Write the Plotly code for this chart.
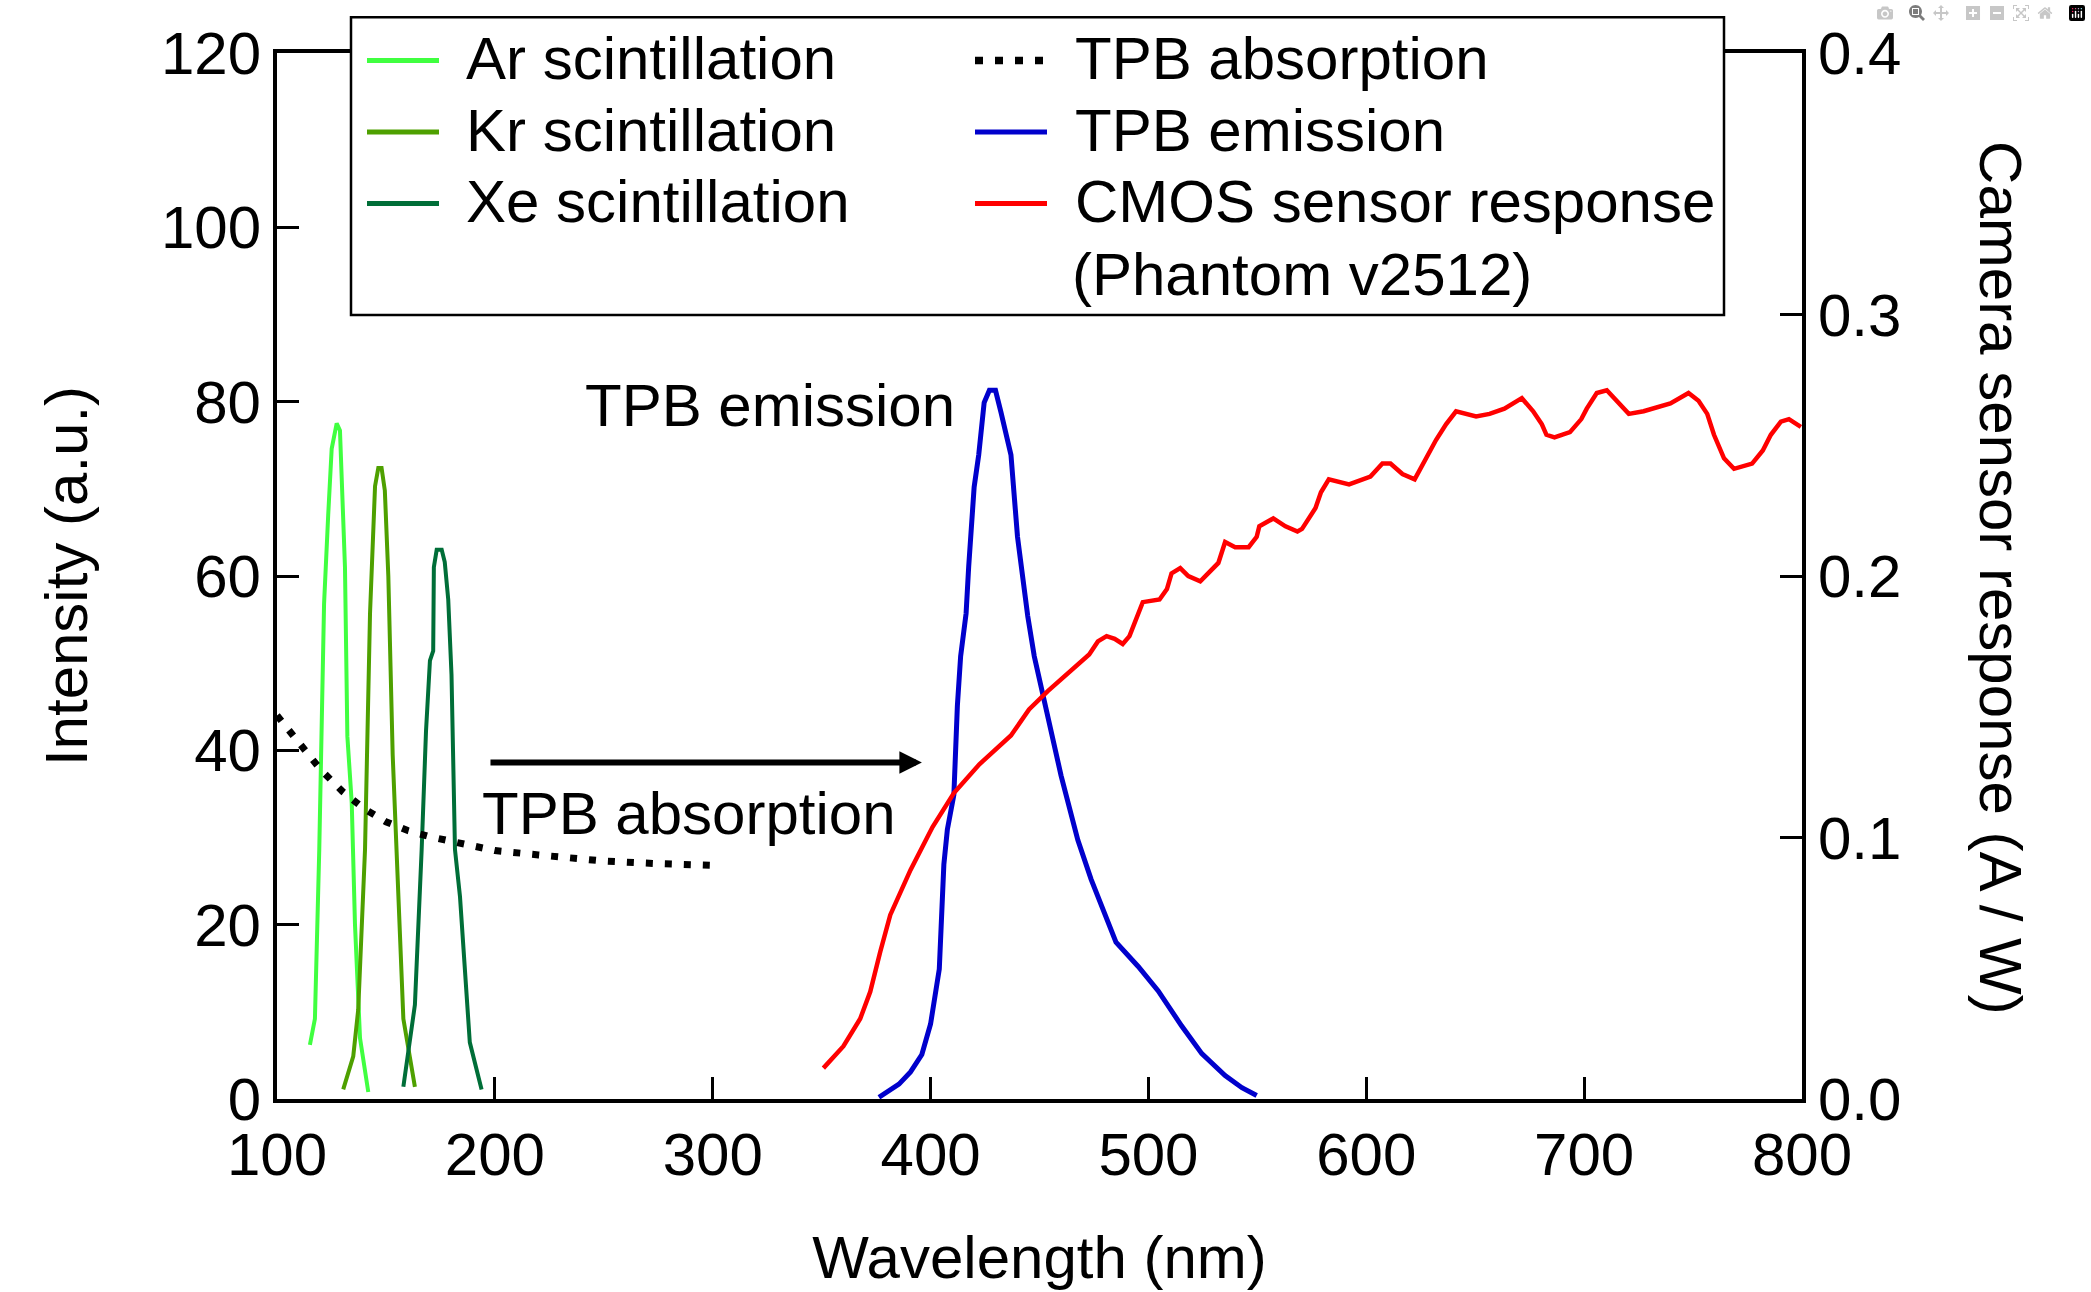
import plotly.graph_objects as go

# ---------------- data ----------------
ar_wl = [115.1, 117.4, 119.4, 120.5, 121.6, 123.5, 125.1, 127.4, 128.9, 131.2, 132.3, 134.3, 135.8, 138.1, 141.9]
ar_int = [6.2, 9.2, 28.6, 40.5, 56.8, 67.0, 74.6, 77.5, 76.7, 61.0, 41.6, 34.0, 20.0, 7.0, 0.8]

kr_wl = [130.4, 135.0, 137.3, 140.4, 142.7, 145.0, 146.5, 148.0, 149.5, 151.1, 153.1, 154.9, 156.1, 158.0, 163.3]
kr_int = [1.1, 4.9, 10.3, 28.6, 55.7, 70.3, 72.4, 72.4, 69.8, 60.0, 39.5, 28.6, 20.5, 9.2, 1.4]

xe_wl = [158.0, 163.3, 166.4, 168.4, 170.2, 171.7, 172.0, 173.3, 175.6, 177.0, 178.6, 180.1, 181.7, 184.0, 188.5, 193.9]
xe_int = [1.4, 10.8, 28.6, 42.2, 50.3, 51.4, 61.0, 63.0, 63.0, 61.6, 57.3, 48.7, 28.6, 23.2, 6.5, 1.1]

abs_wl = [100, 110, 120, 130, 140, 150, 160, 170, 180, 200, 220, 250, 275, 300]
abs_int = [44.0, 40.8, 37.8, 35.3, 33.3, 31.8, 30.8, 30.1, 29.5, 28.5, 28.0, 27.3, 27.0, 26.8]

em_wl = [376.3, 385.5, 390.8, 396.0, 400.0, 402.2, 404.0, 406.1, 407.7, 410.7, 412.3, 413.8, 416.3, 417.5,
         420.0, 422.1, 424.6, 427.0, 429.8, 432.3, 436.9, 439.9, 444.6, 447.6, 453.8, 459.9, 467.6, 473.7,
         485.1, 495.3, 504.5, 515.2, 524.5, 535.2, 542.9, 549.7]
em_int = [0.2, 1.7, 3.1, 5.1, 8.6, 12.1, 14.9, 26.9, 30.9, 34.9, 45.1, 50.8, 55.7, 61.1,
          70.2, 73.9, 79.9, 81.3, 81.3, 78.8, 73.9, 64.5, 55.4, 50.8, 44.0, 37.1, 29.7, 25.2,
          18.0, 15.2, 12.4, 8.4, 5.2, 2.7, 1.3, 0.4]

cmos_wl = [350.8, 360.0, 367.7, 372.3, 376.9, 381.5, 390.8, 400.9, 410.7, 422.4, 436.9, 445.2, 453.8, 472.8,
           476.8, 480.8, 484.5, 488.2, 491.3, 497.4, 505.1, 508.5, 510.6, 514.6, 518.3, 523.8, 532.1, 535.2,
           539.8, 546.0, 549.7, 550.9, 557.3, 562.9, 568.4, 570.5, 576.7, 579.2, 582.8, 592.1, 601.9, 607.4,
           611.1, 616.6, 622.2, 625.9, 632.0, 636.6, 641.2, 650.4, 656.6, 663.4, 671.4, 676.6, 680.6, 682.7,
           686.4, 693.5, 698.7, 701.2, 705.8, 710.4, 715.0, 720.5, 727.3, 739.6, 747.9, 752.5, 756.5, 759.6,
           764.2, 768.8, 777.1, 782.0, 785.7, 790.3, 794.0, 799.5]
cmos_resp = [0.0118, 0.0202, 0.0307, 0.041, 0.0563, 0.0704, 0.0876, 0.104, 0.117, 0.128, 0.139, 0.149, 0.156, 0.170,
             0.175, 0.177, 0.176, 0.174, 0.177, 0.190, 0.191, 0.195, 0.201, 0.203, 0.200, 0.198, 0.205, 0.213,
             0.211, 0.211, 0.215, 0.219, 0.222, 0.219, 0.217, 0.218, 0.226, 0.232, 0.237, 0.235, 0.238, 0.243,
             0.243, 0.239, 0.237, 0.243, 0.252, 0.258, 0.263, 0.261, 0.262, 0.264, 0.268, 0.263, 0.258, 0.254,
             0.253, 0.255, 0.260, 0.264, 0.270, 0.271, 0.267, 0.262, 0.263, 0.266, 0.270, 0.267, 0.262, 0.254,
             0.245, 0.241, 0.243, 0.248, 0.254, 0.259, 0.260, 0.257]

x_ticks = [100, 200, 300, 400, 500, 600, 700, 800]
y_ticks = [0, 20, 40, 60, 80, 100, 120]
y2_ticks = [0.0, 0.1, 0.2, 0.3, 0.4]

FONT = "Liberation Sans, Arial, Helvetica, sans-serif"
FS = 60

W, H = 2091, 1292
ML, MR, MT, MB = 277, 289, 53, 189
PW, PH = W - ML - MR, H - MT - MB


def px(x):  # pixel -> paper x
    return (x - ML) / PW


def py(y):  # pixel -> paper y
    return (H - MB - y) / PH


series_style = {
    "Ar scintillation": dict(color="#40FF40", width=4),
    "Kr scintillation": dict(color="#4EA000", width=4),
    "Xe scintillation": dict(color="#006E38", width=4),
    "TPB absorption": dict(color="black", width=7, dash="7px,12px"),
    "TPB emission": dict(color="#0000CC", width=5),
    "CMOS sensor response": dict(color="#FF0000", width=4.5),
}

fig = go.Figure()
fig.add_trace(go.Scatter(x=ar_wl, y=ar_int, mode="lines", name="Ar scintillation",
                         line=series_style["Ar scintillation"]))
fig.add_trace(go.Scatter(x=kr_wl, y=kr_int, mode="lines", name="Kr scintillation",
                         line=series_style["Kr scintillation"]))
fig.add_trace(go.Scatter(x=xe_wl, y=xe_int, mode="lines", name="Xe scintillation",
                         line=series_style["Xe scintillation"]))
fig.add_trace(go.Scatter(x=abs_wl, y=abs_int, mode="lines", name="TPB absorption",
                         line=series_style["TPB absorption"]))
fig.add_trace(go.Scatter(x=em_wl, y=em_int, mode="lines", name="TPB emission",
                         line=series_style["TPB emission"]))
fig.add_trace(go.Scatter(x=cmos_wl, y=cmos_resp, mode="lines", yaxis="y2",
                         name="CMOS sensor response (Phantom v2512)",
                         line=series_style["CMOS sensor response"]))

axis_common = dict(showgrid=False, zeroline=False, showline=True, linecolor="black", linewidth=4,
                   ticks="inside", ticklen=22, tickwidth=3, tickcolor="black",
                   tickfont=dict(family=FONT, size=FS, color="black"))

fig.update_layout(
    width=W, height=H,
    margin=dict(l=ML, r=MR, t=MT, b=MB),
    plot_bgcolor="white", paper_bgcolor="white",
    font=dict(family=FONT, size=FS, color="black"),
    showlegend=False,
    xaxis=dict(range=[100, 800], tickvals=x_ticks, mirror=True,
               title=dict(text="Wavelength (nm)", standoff=50, font=dict(family=FONT, size=FS)),
               **axis_common),
    yaxis=dict(range=[0, 120], tickvals=y_ticks,
               title=dict(text="Intensity (a.u.)", standoff=55, font=dict(family=FONT, size=FS)),
               **axis_common),
    yaxis2=dict(range=[0, 0.4], tickvals=y2_ticks, tickformat=".1f", overlaying="y", side="right",
                **axis_common),
)

# in-plot labels and arrow
fig.add_annotation(x=412, y=79.6, xref="x", yref="y", text="TPB emission", showarrow=False,
                   xanchor="right", yanchor="middle", font=dict(family=FONT, size=FS, color="black"))
fig.add_annotation(x=193.2, y=32.8, xref="x", yref="y", text="TPB absorption", showarrow=False,
                   xanchor="left", yanchor="middle", font=dict(family=FONT, size=FS, color="black"))
fig.add_annotation(x=396.0, y=38.6, ax=197.3, ay=38.6, xref="x", yref="y", axref="x", ayref="y",
                   text="", showarrow=True, arrowhead=2, arrowsize=0.75, arrowwidth=6, arrowcolor="black")

# right axis title (reads top-to-bottom)
fig.add_annotation(x=px(2001), y=0.498, xref="paper", yref="paper", text="Camera sensor response (A / W)",
                   showarrow=False, textangle=90, xanchor="center", yanchor="middle",
                   font=dict(family=FONT, size=FS, color="black"))

# ---------------- legend box (two columns) ----------------
fig.add_shape(type="rect", xref="paper", yref="paper", x0=px(351), x1=px(1724), y0=py(316), y1=py(17),
              fillcolor="white", line=dict(color="black", width=2.5), layer="above")

legend_items = [
    ("Ar scintillation", "Ar scintillation", 367, 464, 60.5),
    ("Kr scintillation", "Kr scintillation", 367, 464, 132.3),
    ("Xe scintillation", "Xe scintillation", 367, 464, 204),
    ("TPB absorption", "TPB absorption", 975, 1073, 60.5),
    ("TPB emission", "TPB emission", 975, 1073, 132.3),
    ("CMOS sensor response", "CMOS sensor response", 975, 1073, 204),
]
for key, label, lx, tx, ty in legend_items:
    st = dict(series_style[key])
    if key == "TPB absorption":
        st = dict(color="black", width=7.5, dash="8px,12px")
    elif key == "TPB emission" or key == "CMOS sensor response":
        st["width"] = 5
    else:
        st["width"] = 5
    fig.add_shape(type="line", xref="paper", yref="paper", x0=px(lx), x1=px(lx + 72),
                  y0=py(ty), y1=py(ty), line=st, layer="above")
    fig.add_annotation(x=px(tx), y=py(ty - 1.5), xref="paper", yref="paper", text=label, showarrow=False,
                       xanchor="left", yanchor="middle", font=dict(family=FONT, size=FS, color="black"))
fig.add_annotation(x=px(1070), y=py(275), xref="paper", yref="paper", text="(Phantom v2512)", showarrow=False,
                   xanchor="left", yanchor="middle", font=dict(family=FONT, size=FS, color="black"))

fig.write_html("out.html", post_script="document.body.style.margin='0';")
